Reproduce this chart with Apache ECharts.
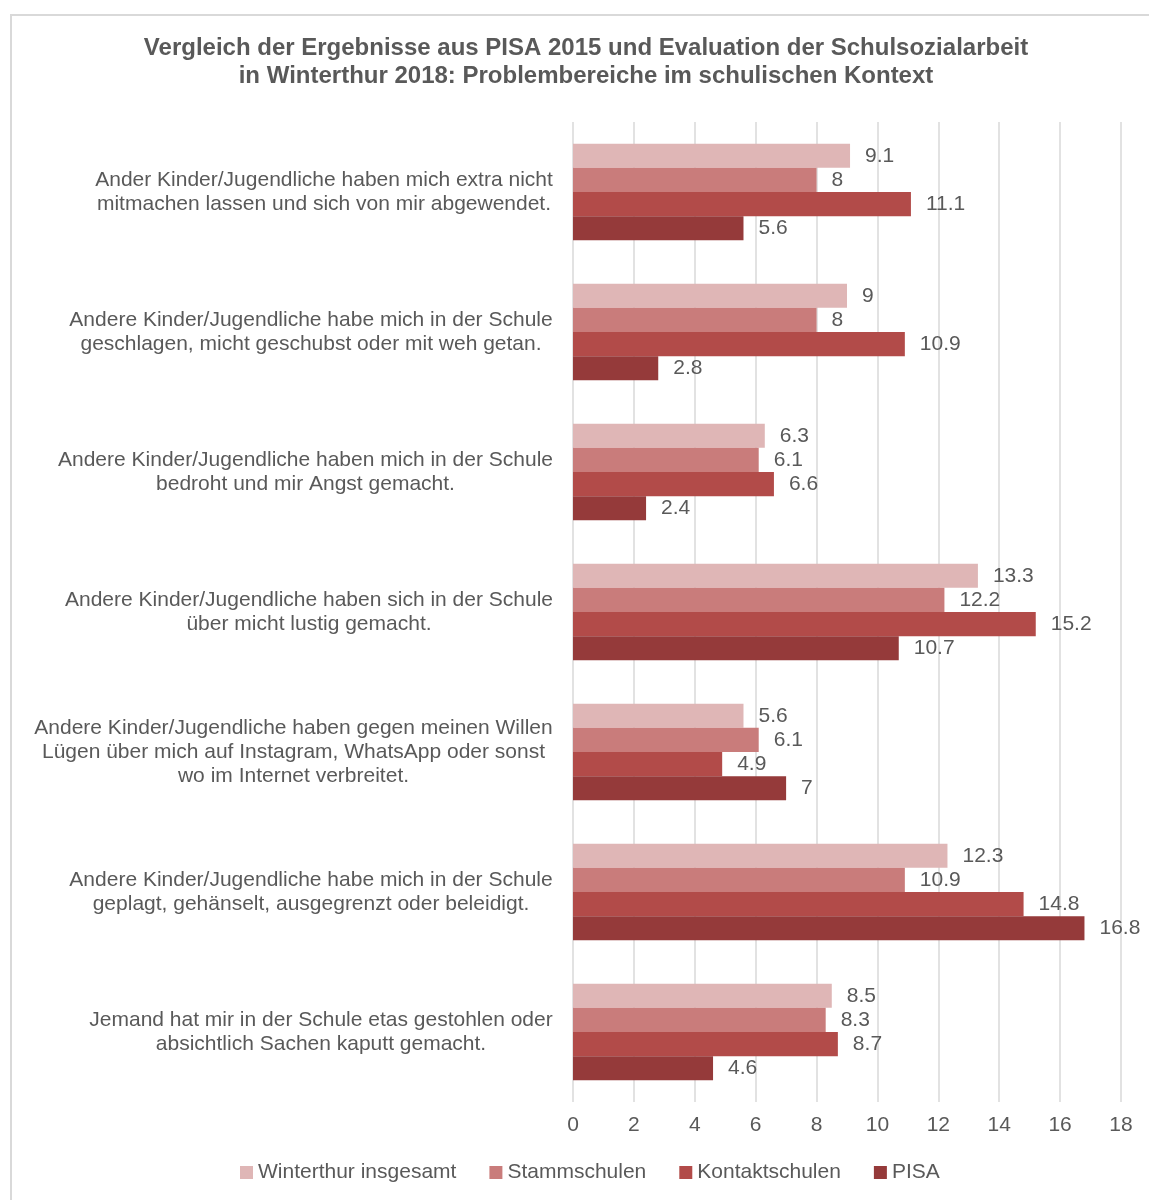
<!DOCTYPE html>
<html>
<head>
<meta charset="utf-8">
<script src="https://cdn.jsdelivr.net/npm/echarts@6/dist/echarts.min.js"></script>
<style>
html,body{margin:0;padding:0;background:#fff;}
#frame{position:absolute;left:10px;top:14px;width:1300px;height:1300px;border:2px solid #d9d9d9;box-sizing:border-box;}
#chart{position:absolute;left:0;top:0;width:1149px;height:1200px;}
</style>
</head>
<body>
<div id="frame"></div>
<div id="chart"></div>
<script>
const categories = [
  "Ander Kinder/Jugendliche haben mich extra nicht\nmitmachen lassen und sich von mir abgewendet.",
  "Andere Kinder/Jugendliche habe mich in der Schule\ngeschlagen, micht geschubst oder mit weh getan.",
  "Andere Kinder/Jugendliche haben mich in der Schule\nbedroht und mir Angst gemacht.",
  "Andere Kinder/Jugendliche haben sich in der Schule\nüber micht lustig gemacht.",
  "Andere Kinder/Jugendliche haben gegen meinen Willen\nLügen über mich auf Instagram, WhatsApp oder sonst\nwo im Internet verbreitet.",
  "Andere Kinder/Jugendliche habe mich in der Schule\ngeplagt, gehänselt, ausgegrenzt oder beleidigt.",
  "Jemand hat mir in der Schule etas gestohlen oder\nabsichtlich Sachen kaputt gemacht."
];
const seriesNames = ["Winterthur insgesamt", "Stammschulen", "Kontaktschulen", "PISA"];
const winterthur = [9.1, 9, 6.3, 13.3, 5.6, 12.3, 8.5];
const stammschulen = [8, 8, 6.1, 12.2, 6.1, 10.9, 8.3];
const kontaktschulen = [11.1, 10.9, 6.6, 15.2, 4.9, 14.8, 8.7];
const pisa = [5.6, 2.8, 2.4, 10.7, 7, 16.8, 4.6];
const xTicks = [0, 2, 4, 6, 8, 10, 12, 14, 16, 18];

const colors = ["#DFB6B6", "#C97C7B", "#B24B49", "#953A3A"];
const FONT = '"Liberation Sans", Arial, sans-serif';
const txt = "#595959";
const FS = 21;

// measure label line widths to center lines within a right-aligned block
const ctx = document.createElement('canvas').getContext('2d');
ctx.font = FS + 'px "Liberation Sans"';
const rich = {};
categories.forEach((c, i) => {
  const w = Math.max(...c.split('\n').map(l => ctx.measureText(l).width));
  rich['c' + i] = { width: Math.ceil(w), align: 'center', fontSize: FS, fontFamily: FONT, color: txt, lineHeight: 24 };
});

const dataSets = [winterthur, stammschulen, kontaktschulen, pisa];
const chart = echarts.init(document.getElementById('chart'));
chart.setOption({
  animation: false,
  color: colors,
  title: {
    text: "Vergleich der Ergebnisse aus PISA 2015 und Evaluation der Schulsozialarbeit\nin Winterthur 2018: Problembereiche im schulischen Kontext",
    left: 581, top: 29, textAlign: 'center',
    textStyle: { fontFamily: FONT, fontSize: 24, fontWeight: 'bold', color: txt, lineHeight: 28 }
  },
  legend: {
    data: seriesNames, top: 1157, left: 235,
    icon: 'rect', itemWidth: 13, itemHeight: 13, itemGap: 33,
    textStyle: { fontFamily: FONT, fontSize: FS, color: txt }
  },
  grid: { left: 573, right: 28, top: 122, bottom: 98, containLabel: false },
  xAxis: {
    type: 'value', min: 0, max: 18, interval: 2,
    axisLine: { show: false }, axisTick: { show: false },
    splitLine: { show: true, lineStyle: { color: '#d9d9d9', width: 1.5 } },
    axisLabel: { fontFamily: FONT, fontSize: FS, color: txt, margin: 13,
      formatter: v => xTicks.includes(v) ? String(v) : '' }
  },
  yAxis: {
    type: 'category', data: categories, inverse: true,
    axisLine: { show: false }, axisTick: { show: false },
    axisLabel: {
      margin: 20,
      formatter: (v, i) => v.split('\n').map(l => '{c' + i + '|' + l + '}').join('\n'),
      rich: rich
    }
  },
  series: dataSets.map((d, k) => ({
    name: seriesNames[k], type: 'bar', data: d,
    barGap: '0%', barCategoryGap: '31%',
    label: { show: true, position: 'right', distance: 15, fontFamily: FONT, fontSize: FS, color: txt }
  }))
});
</script>
</body>
</html>
